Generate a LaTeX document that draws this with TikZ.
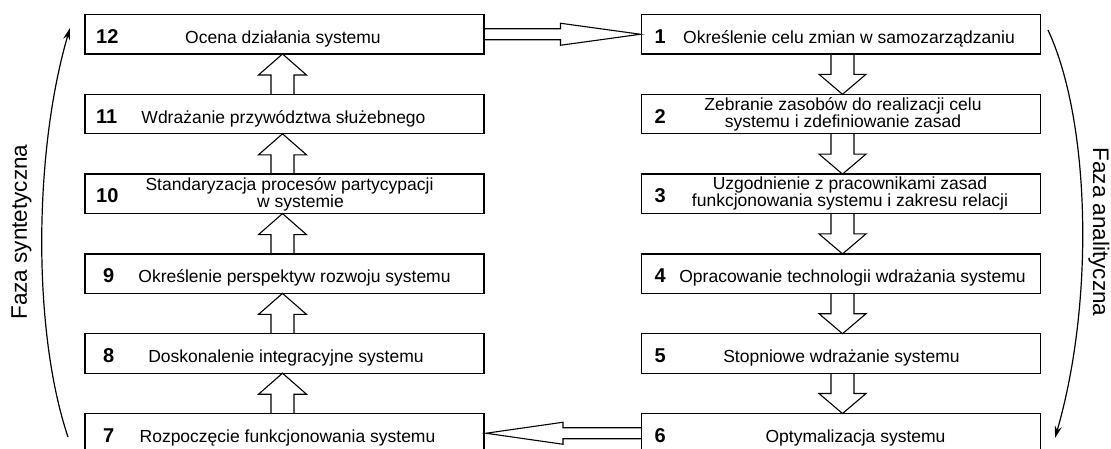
\documentclass[tikz,border=0pt]{standalone}
\usepackage{fontspec}
\setmainfont{Liberation Sans}
\usetikzlibrary{calc,arrows.meta}

\tikzset{
  stage/.style={draw, line width=1.3pt, minimum width=399pt, minimum height=39.5pt,
                inner sep=0pt, outer sep=0pt},
  num/.style={font=\fontsize{20}{20}\selectfont\bfseries, anchor=base west, inner sep=0pt},
  txt/.style={font=\fontsize{17.5}{15}\selectfont, anchor=base, inner sep=0pt, align=center},
  blockarr/.style={draw, line width=1.1pt, line join=miter},
  phase/.style={font=\fontsize{22.5}{22.5}\selectfont, anchor=base, inner sep=0pt},
  cyclearr/.style={draw, line width=1.2pt, -{Stealth[length=12pt,width=7pt]}},
}

% hollow block arrow pointing up, from the lower stage #1 to the upper stage #2
\newcommand\blkup[2]{%
  \draw[blockarr] ($(#1.north)+(-13.5,0)$) -- ($(#2.south)+(-13.5,21)$)
    -- ($(#2.south)+(-26,21)$) -- ($(#2.south)+(-2,0)$) -- ($(#2.south)+(22,21)$)
    -- ($(#2.south)+(9.5,21)$) -- ($(#1.north)+(9.5,0)$);}
% hollow block arrow pointing down, from the upper stage #1 to the lower stage #2
\newcommand\blkdown[2]{%
  \draw[blockarr] ($(#1.south)+(-10,0)$) -- ($(#2.north)+(-10,-20)$)
    -- ($(#2.north)+(-22,-20)$) -- ($(#2.north)+(1.5,0)$) -- ($(#2.north)+(25,-20)$)
    -- ($(#2.north)+(13,-20)$) -- ($(#1.south)+(13,0)$);}

\begin{document}
\begin{tikzpicture}[x=1pt,y=-1pt]
\useasboundingbox (0,0) rectangle (1111,448);
\clip (0,0) rectangle (1111,448);

% left column: synthetic phase (7 -> 12, bottom to top)
\node[stage] (s12) at (284.5,34.25)  {};
\node[stage] (s11) at (284.5,114.05) {};
\node[stage] (s10) at (284.5,193.85) {};
\node[stage] (s9)  at (284.5,273.65) {};
\node[stage] (s8)  at (284.5,353.45) {};
\node[stage] (s7)  at (284.5,433.25) {};

% right column: analytic phase (1 -> 6, top to bottom)
\node[stage] (s1) at (841,34.25)  {};
\node[stage] (s2) at (841,114.05) {};
\node[stage] (s3) at (841,193.85) {};
\node[stage] (s4) at (841,273.65) {};
\node[stage] (s5) at (841,353.45) {};
\node[stage] (s6) at (841,433.25) {};

% stage numbers
\node[num] (n12) at ($(s12.west)+(11,9)$) {12};
\node[num] (n11) at ($(s11.west)+(11,9)$) {11};
\node[num] (n10) at ($(s10.west)+(11,9)$) {10};
\node[num] (n9)  at ($(s9.west)+(18,9)$)  {9};
\node[num] (n8)  at ($(s8.west)+(18,9)$)  {8};
\node[num] (n7)  at ($(s7.west)+(18,9)$)  {7};
\node[num] (n1)  at ($(s1.west)+(13,9)$)  {1};
\node[num] (n2)  at ($(s2.west)+(13,9)$)  {2};
\node[num] (n3)  at ($(s3.west)+(13,9)$)  {3};
\node[num] (n4)  at ($(s4.west)+(13,9)$)  {4};
\node[num] (n5)  at ($(s5.west)+(13,9)$)  {5};
\node[num] (n6)  at ($(s6.west)+(13,9)$)  {6};

% stage descriptions (two-line ones are placed by the baseline of their last line)
\node[txt] (t12) at ($(s12.center)+(-1.5,9)$) {Ocena działania systemu};
\node[txt] (t11) at ($(s11.center)+(-1,9)$)   {Wdrażanie przywództwa służebnego};
\node[txt] (t10) at ($(s10.center)+(5,13.5)$) {Standaryzacja procesów partycypacji\\\hspace*{22pt}w systemie};
\node[txt] (t9)  at ($(s9.center)+(10,9)$)    {Określenie perspektyw rozwoju systemu};
\node[txt] (t8)  at ($(s8.center)+(1.5,9)$)   {Doskonalenie integracyjne systemu};
\node[txt] (t7)  at ($(s7.center)+(3,9)$)     {Rozpoczęcie funkcjonowania systemu};
\node[txt] (t1)  at ($(s1.center)+(8,9)$)     {Określenie celu zmian w samozarządzaniu};
\node[txt] (t2)  at ($(s2.center)+(2,13.5)$)  {Zebranie zasobów do realizacji celu\\systemu i zdefiniowanie zasad};
\node[txt] (t3)  at ($(s3.center)+(9,13)$)    {Uzgodnienie z pracownikami zasad\\funkcjonowania systemu i zakresu relacji};
\node[txt] (t4)  at ($(s4.center)+(11.5,9)$)  {Opracowanie technologii wdrażania systemu};
\node[txt] (t5)  at ($(s5.center)+(0.5,9)$)   {Stopniowe wdrażanie systemu};
\node[txt] (t6)  at ($(s6.center)+(14.5,9)$)  {Optymalizacja systemu};

% flow between stages
\blkdown{s1}{s2}
\blkdown{s2}{s3}
\blkdown{s3}{s4}
\blkdown{s4}{s5}
\blkdown{s5}{s6}
\blkup{s7}{s8}
\blkup{s8}{s9}
\blkup{s9}{s10}
\blkup{s10}{s11}
\blkup{s11}{s12}

% 12 -> 1
\draw[blockarr] ($(s12.east)+(0,-5.5)$) -- ($(s1.west)+(-81,-5.5)$) -- ($(s1.west)+(-81,-11)$)
  -- ($(s1.west)+(-1,0)$) -- ($(s1.west)+(-81,11)$) -- ($(s1.west)+(-81,5.5)$)
  -- ($(s12.east)+(0,5.5)$);
% 6 -> 7
\draw[blockarr] ($(s6.west)+(0,-5.5)$) -- ($(s7.east)+(79,-5.5)$) -- ($(s7.east)+(79,-11)$)
  -- ($(s7.east)+(2,0)$) -- ($(s7.east)+(79,11)$) -- ($(s7.east)+(79,5.5)$)
  -- ($(s6.west)+(0,5.5)$);

% phase arcs
\coordinate (synA) at (68,437);
\coordinate (synB) at (70,28);
\draw[cyclearr] (synA) .. controls (32,330) and (34,150) .. (synB);
\coordinate (anaA) at (1048,30);
\coordinate (anaB) at (1055,438);
\draw[cyclearr] (anaA) .. controls (1090,120) and (1095,300) .. (anaB);

\node[phase, rotate=90]  (fsyn) at (27,232)   {Faza syntetyczna};
\node[phase, rotate=-90] (fana) at (1093,232) {Faza analityczna};
\end{tikzpicture}
\end{document}
